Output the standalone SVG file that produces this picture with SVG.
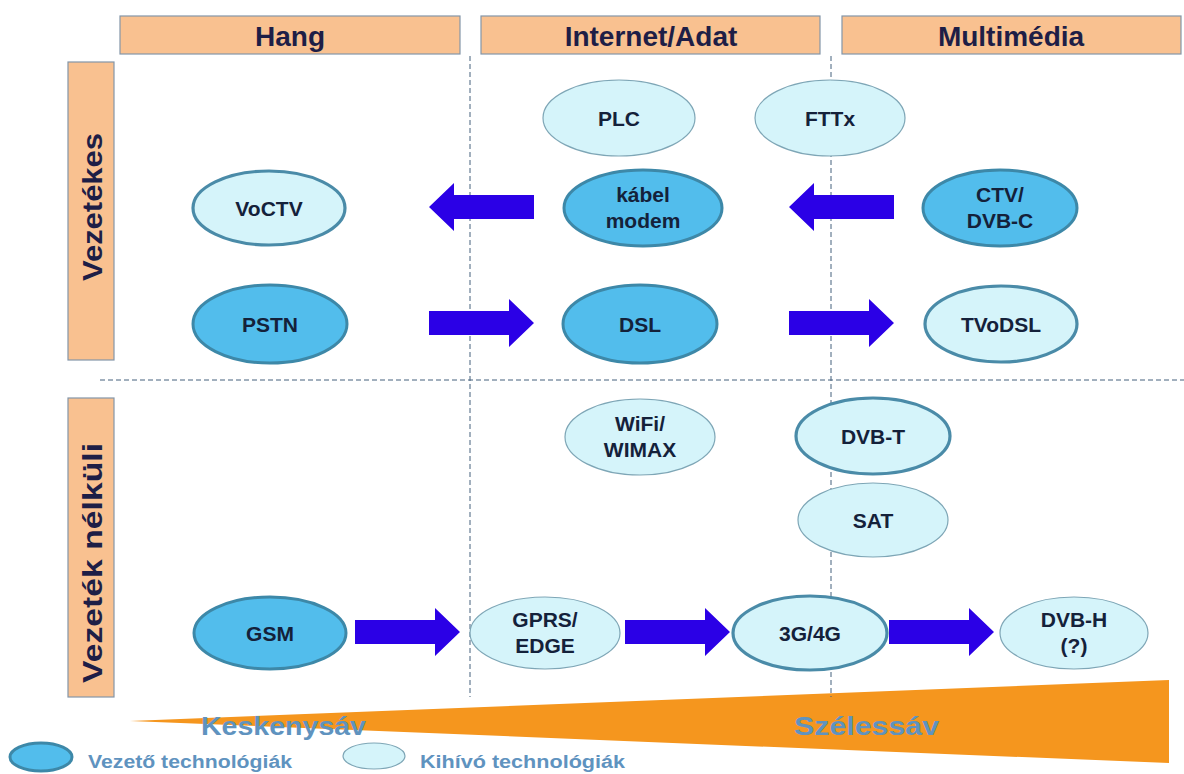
<svg xmlns="http://www.w3.org/2000/svg" width="1184" height="774" viewBox="0 0 1184 774">
<defs>
<style>
.hdr{fill:#F9C190;stroke:#8496A8;stroke-width:1.2}
.ht{font-family:"Liberation Sans",Arial,sans-serif;font-weight:bold;font-size:28px;fill:#1E1E46;text-anchor:middle}
.lead{fill:#52BDEC;stroke:#3D88A8;stroke-width:3}
.chal{fill:#D5F4FA;stroke:#7EA6B6;stroke-width:1.2}
.chalb{fill:#D5F4FA;stroke:#4A8BA8;stroke-width:3.2}
.nt{font-family:"Liberation Sans",Arial,sans-serif;font-weight:bold;font-size:21px;fill:#14213A;text-anchor:middle}
.dash{stroke:#44607C;stroke-width:1;stroke-dasharray:5 3;fill:none}
.arr{fill:#2B00E6}
.band{font-family:"Liberation Sans",Arial,sans-serif;font-weight:bold;font-size:25px;fill:#5F93BF}
.leg{font-family:"Liberation Sans",Arial,sans-serif;font-weight:bold;font-size:18px;fill:#5F93BF}
</style>
<path id="ar" d="M0,-12 H80 V-24 L105,0 L80,24 V12 H0 Z"/>
</defs>
<rect width="1184" height="774" fill="#FFFFFF"/>

<g id="wedge">
<polygon points="130,721 1169,680 1169,763" fill="#F5961E"/>
<text class="band" x="201" y="735" textLength="165" lengthAdjust="spacingAndGlyphs">Keskenysáv</text>
<text class="band" x="794" y="735" textLength="145" lengthAdjust="spacingAndGlyphs">Szélessáv</text>
</g>

<g id="grid">
<line class="dash" x1="470" y1="56" x2="470" y2="697"/>
<line class="dash" x1="831" y1="56" x2="831" y2="697"/>
<line class="dash" x1="100" y1="380" x2="1184" y2="380"/>
</g>

<g id="col-hang"><rect class="hdr" x="120" y="16" width="340" height="38"/><text class="ht" x="290" y="46">Hang</text></g>
<g id="col-internet"><rect class="hdr" x="481" y="16" width="339" height="38"/><text class="ht" x="651" y="46">Internet/Adat</text></g>
<g id="col-multimedia"><rect class="hdr" x="842" y="16" width="339" height="38"/><text class="ht" x="1011" y="46">Multimédia</text></g>

<g id="row-vezetekes"><rect class="hdr" x="68" y="62" width="46" height="298"/><text class="ht" transform="translate(102,207) rotate(-90)" textLength="148" lengthAdjust="spacingAndGlyphs">Vezetékes</text></g>
<g id="row-nelkuli"><rect class="hdr" x="68" y="398" width="46" height="299"/><text class="ht" transform="translate(102,563) rotate(-90)" textLength="240" lengthAdjust="spacingAndGlyphs">Vezeték nélküli</text></g>

<g id="connectors">
<use href="#ar" class="arr" transform="translate(534,207) scale(-1,1)"/>
<use href="#ar" class="arr" transform="translate(894,207) scale(-1,1)"/>
<use href="#ar" class="arr" transform="translate(429,323)"/>
<use href="#ar" class="arr" transform="translate(789,323)"/>
<use href="#ar" class="arr" transform="translate(355,632)"/>
<use href="#ar" class="arr" transform="translate(625,632)"/>
<use href="#ar" class="arr" transform="translate(889,632)"/>
</g>

<g id="plc"><ellipse class="chal" cx="619" cy="118" rx="76" ry="38"/><text class="nt" x="619" y="125.5">PLC</text></g>
<g id="fttx"><ellipse class="chal" cx="830" cy="118" rx="75" ry="38"/><text class="nt" x="830" y="125.5">FTTx</text></g>
<g id="voctv"><ellipse class="chalb" cx="269" cy="208" rx="76" ry="37"/><text class="nt" x="269" y="215.5">VoCTV</text></g>
<g id="kabelmodem"><ellipse class="lead" cx="643" cy="208" rx="79" ry="38"/><text class="nt" x="643" y="201.5">kábel</text><text class="nt" x="643" y="227.5">modem</text></g>
<g id="ctv"><ellipse class="lead" cx="1000" cy="208" rx="77" ry="38"/><text class="nt" x="1000" y="201.5">CTV/</text><text class="nt" x="1000" y="227.5">DVB-C</text></g>
<g id="pstn"><ellipse class="lead" cx="270" cy="324" rx="77" ry="39"/><text class="nt" x="270" y="331.5">PSTN</text></g>
<g id="dsl"><ellipse class="lead" cx="640" cy="324" rx="77" ry="39"/><text class="nt" x="640" y="331.5">DSL</text></g>
<g id="tvodsl"><ellipse class="chalb" cx="1001" cy="324" rx="76" ry="38"/><text class="nt" x="1001" y="331.5">TVoDSL</text></g>
<g id="wifi"><ellipse class="chal" cx="640" cy="437" rx="75" ry="38"/><text class="nt" x="640" y="430.5">WiFi/</text><text class="nt" x="640" y="456.5">WIMAX</text></g>
<g id="dvbt"><ellipse class="chalb" cx="873" cy="436" rx="77" ry="38"/><text class="nt" x="873" y="443.5">DVB-T</text></g>
<g id="sat"><ellipse class="chal" cx="873" cy="520" rx="75" ry="37"/><text class="nt" x="873" y="527.5">SAT</text></g>
<g id="gsm"><ellipse class="lead" cx="270" cy="633" rx="76" ry="36"/><text class="nt" x="270" y="640.5">GSM</text></g>
<g id="gprs"><ellipse class="chal" cx="545" cy="633" rx="75" ry="36"/><text class="nt" x="545" y="626.5">GPRS/</text><text class="nt" x="545" y="652.5">EDGE</text></g>
<g id="g34"><ellipse class="chalb" cx="810" cy="633" rx="77" ry="37"/><text class="nt" x="810" y="640.5">3G/4G</text></g>
<g id="dvbh"><ellipse class="chal" cx="1074" cy="633" rx="74" ry="36"/><text class="nt" x="1074" y="626.5">DVB-H</text><text class="nt" x="1074" y="652.5">(?)</text></g>

<g id="legend">
<ellipse class="lead" cx="41" cy="757" rx="31" ry="14" stroke-width="1.5"/>
<text class="leg" x="88" y="768" textLength="204" lengthAdjust="spacingAndGlyphs">Vezető technológiák</text>
<ellipse class="chal" cx="374" cy="756" rx="31" ry="13"/>
<text class="leg" x="420" y="768" textLength="205" lengthAdjust="spacingAndGlyphs">Kihívó technológiák</text>
</g>
</svg>
